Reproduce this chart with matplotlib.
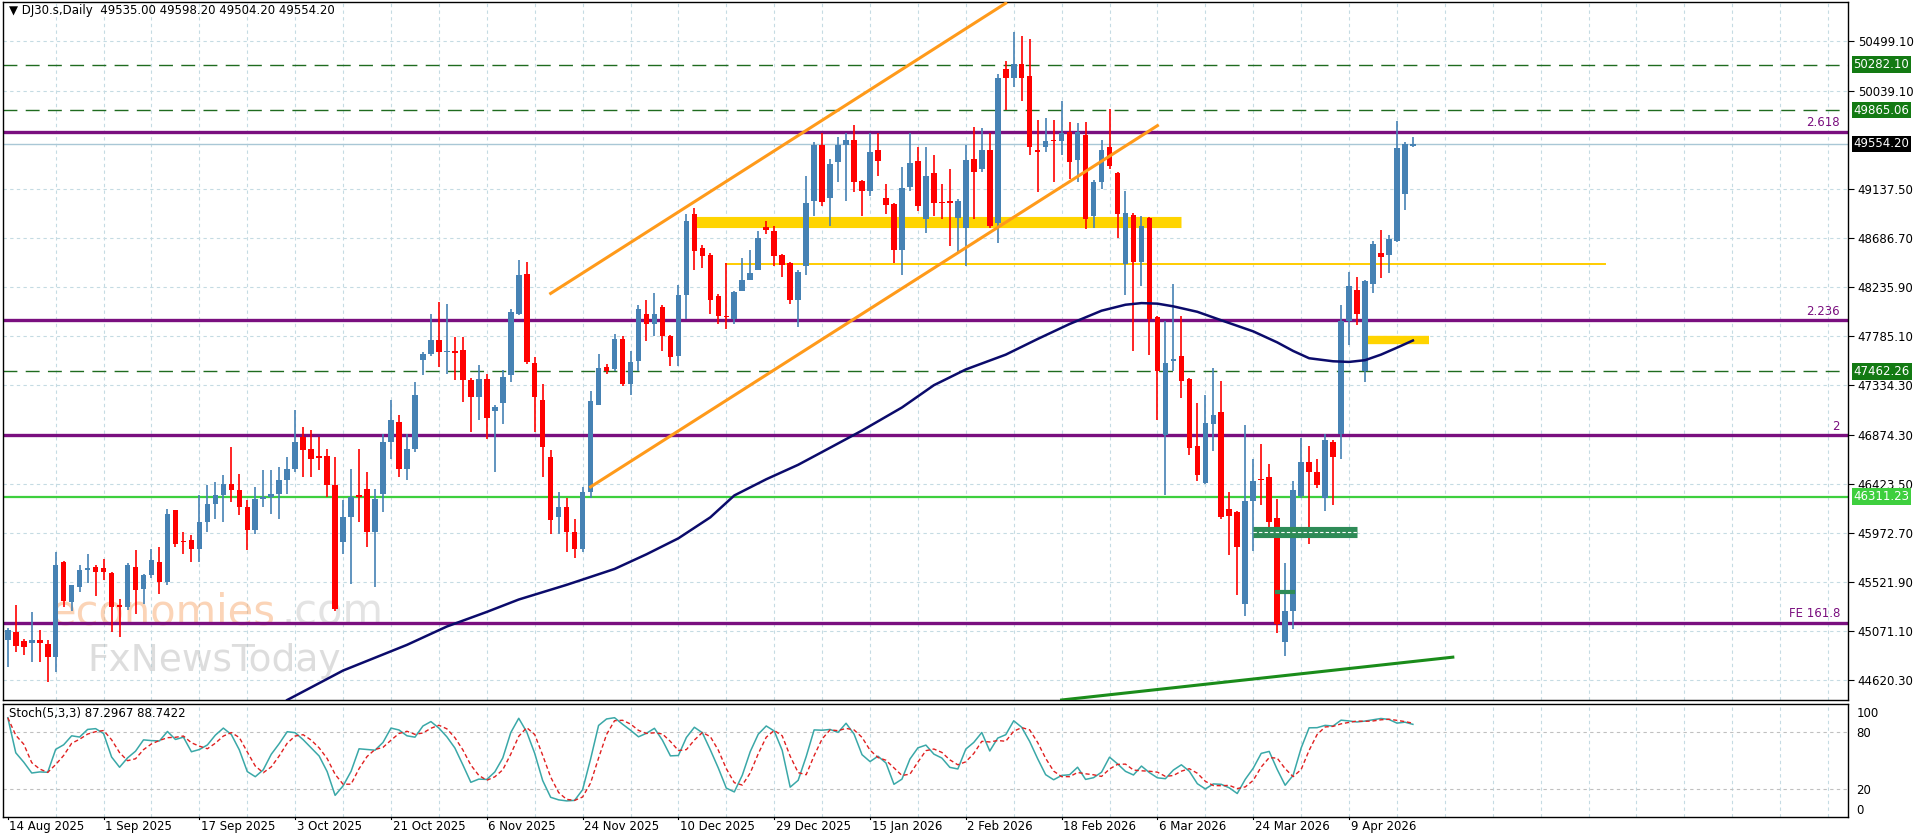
import matplotlib.pyplot as plt
import matplotlib.transforms as mtransforms
import numpy as np
import pandas as pd

# daily OHLC, bar 0 = 14 Aug 2025
opens = [44990, 45064, 44987, 44960, 44990, 44957, 44834, 45708, 45340, 45478,
         45640, 45660, 45650, 45607, 45318, 45294, 45662, 45462, 45585, 45708,
         45524, 46183, 45900, 45907, 45830, 46076, 46245, 46321, 46429, 46367,
         46214, 46000, 46291, 46306, 46337, 46459, 46566, 46858, 46750, 46680,
         46680, 46413, 45892, 46122, 46321, 46383, 45984, 46337, 46812, 46996,
         46567, 46751, 47563, 47625, 47753, 47640, 47650, 47655, 47379, 47226,
         47395, 47100, 47170, 47425, 47992, 48354, 47542, 47195, 46674, 46122,
         46214, 45984, 45830, 46350, 47157, 47500, 47482, 47760, 47342, 47559,
         47992, 47900, 48055, 47792, 47605, 48163, 48907, 48600, 48535, 48154,
         47970, 47946, 48200, 48302, 48390, 48790, 48752, 48535, 48458, 48117,
         48427, 49030, 49548, 49054, 49387, 49542, 49588, 49210, 49124, 49495,
         49054, 49000, 48582, 49160, 49393, 48861, 49288, 49020, 49030, 48877,
         48783, 49418, 49325, 49496, 48823, 50245, 50162, 50292, 50177, 49500,
         49527, 49590, 49580, 49666, 49403, 49635, 48891, 49207, 49529, 49290,
         48453, 48904, 48470, 48873, 47958, 46877, 47560, 47600, 47388, 46780,
         46438, 46975, 47087, 46199, 46165, 45321, 46267, 46475, 46489, 46113,
         44969, 45259, 46318, 46626, 46540, 46301, 46814, 46882, 47924, 48214,
         47463, 48265, 48552, 48532, 48658, 49092, 49535]
closes = [45080, 44941, 44926, 44990, 44960, 44834, 45677, 45355, 45493, 45631,
          45655, 45620, 45620, 45294, 45294, 45677, 45447, 45585, 45723, 45524,
          46152, 45877, 45892, 45830, 46076, 46245, 46321, 46429, 46367, 46214,
          46000, 46291, 46306, 46337, 46459, 46566, 46812, 46735, 46658, 46665,
          46413, 45278, 46122, 46306, 46306, 45984, 46291, 46812, 47011, 46567,
          46751, 47241, 47625, 47753, 47640, 47640, 47635, 47379, 47226, 47395,
          47036, 47130, 47410, 48008, 48345, 47548, 47226, 46766, 46091, 46214,
          45984, 45830, 46350, 47190, 47497, 47470, 47760, 47342, 47544, 48039,
          47900, 47992, 47792, 47590, 48163, 48845, 48566, 48520, 48117, 47968,
          47960, 48194, 48302, 48364, 48690, 48760, 48520, 48442, 48117, 48380,
          49015, 49542, 49022, 49372, 49542, 49588, 49201, 49124, 49480, 49393,
          48991, 48582, 49146, 49381, 48984, 49257, 49015, 49010, 49015, 49030,
          49403, 49294, 49496, 48799, 50162, 50162, 50292, 50162, 49527, 49475,
          49580, 49585, 49650, 49388, 49666, 48861, 49207, 49502, 49348, 48908,
          48921, 48470, 48802, 47941, 47469, 47536, 47575, 47377, 46762, 46506,
          46984, 47063, 46120, 46130, 45847, 46267, 46455, 46465, 46079, 45140,
          45259, 46369, 46626, 46540, 46421, 46831, 46677, 47924, 48248, 47992,
          48289, 48631, 48518, 48675, 49512, 49557, 49554]
highs = [45100, 45310, 45000, 45250, 45080, 44990, 45800, 45720, 45500, 45678,
         45785, 45680, 45740, 45620, 45370, 45700, 45816, 45600, 45830, 45846,
         46199, 46190, 45985, 45954, 46321, 46413, 46444, 46505, 46766, 46521,
         46275, 46398, 46551, 46551, 46582, 46674, 47103, 46950, 46920, 46858,
         46750, 46674, 46275, 46567, 46750, 46536, 46383, 46889, 47195, 47057,
         46889, 47364, 47640, 47992, 48100, 48084, 47778, 47778, 47400, 47517,
         47440, 47150, 47471, 48038, 48483, 48468, 47594, 47348, 46735, 46352,
         46300, 46100, 46400, 47280, 47621, 47528, 47807, 47792, 47652, 48070,
         48117, 48179, 48070, 47800, 48256, 48907, 48969, 48620, 48550, 48170,
         48457, 48200, 48504, 48582, 48752, 48845, 48798, 48540, 48470, 48390,
         49263, 49573, 49650, 49418, 49620, 49650, 49728, 49220, 49650, 49650,
         49186, 49010, 49341, 49650, 49527, 49527, 49449, 49186, 49325, 49050,
         49542, 49712, 49697, 49650, 50193, 50317, 50580, 50549, 50518, 49775,
         49790, 49775, 49945, 49759, 49743, 49759, 49220, 49589, 49878, 49300,
         49119, 48921, 48887, 48880, 47970, 47924, 48265, 47975, 47400, 47172,
         47241, 47497, 47370, 46352, 46180, 46967, 46660, 46797, 46609, 46284,
         45703, 46455, 46848, 46780, 46660, 46882, 46830, 48077, 48375, 48334,
         48300, 48658, 48761, 48716, 49768, 49570, 49615]
lows = [44742, 44880, 44850, 44790, 44790, 44604, 44696, 45294, 45260, 45430,
        45520, 45400, 45540, 45064, 45018, 45270, 45233, 45325, 45560, 45417,
        45500, 45846, 45785, 45708, 45708, 45984, 46107, 46076, 46260, 46137,
        45815, 45969, 46214, 46153, 46107, 46337, 46536, 46490, 46490, 46551,
        46306, 45263, 45785, 45509, 46076, 45846, 45478, 46168, 46659, 46490,
        46459, 46720, 47425, 47600, 47502, 47440, 47379, 47180, 46904, 47011,
        46843, 46536, 46980, 47364, 47977, 47530, 46904, 46490, 45969, 45969,
        45800, 45750, 45800, 46300, 47150, 47435, 47466, 47327, 47249, 47466,
        47745, 47792, 47652, 47513, 47513, 47946, 48396, 48410, 47993, 47900,
        47854, 47900, 48256, 48318, 48430, 48730, 48430, 48334, 48086, 47869,
        48349, 48891, 48984, 48798, 49201, 49031, 49108, 48891, 49077, 49263,
        48907, 48458, 48349, 49124, 48938, 48737, 48891, 48861, 48612, 48550,
        48427, 48861, 49300, 48783, 48644, 49867, 50075, 49945, 49449, 49108,
        49480, 49201, 49449, 49232, 49201, 48768, 48783, 49139, 49325, 48692,
        48163, 47650, 48248, 47616, 47019, 46325, 47463, 47213, 46694, 46455,
        46430, 46728, 46100, 45772, 45403, 45208, 45806, 46233, 46028, 45054,
        44849, 45089, 46300, 45875, 46387, 46182, 46233, 46660, 47702, 47890,
        47360, 48180, 48317, 48368, 48650, 48949, 49529]

# moving average (bar index, value)
ma_idx = [35, 42, 50, 55, 60, 64, 70, 76, 80, 84, 88, 91, 95, 99, 103, 107, 112,
          116, 120, 125, 129, 133, 137, 140, 142, 144, 146, 149, 152, 156, 159,
          161, 163, 166, 168, 170, 172, 174, 176]
ma_val = [44440, 44711, 44947, 45116, 45250, 45364, 45499, 45645, 45780, 45927,
          46120, 46321, 46470, 46603, 46760, 46918, 47130, 47335, 47480, 47616,
          47760, 47898, 48020, 48075, 48090, 48085, 48060, 48010, 47932, 47830,
          47729, 47650, 47583, 47555, 47549, 47565, 47616, 47680, 47746]

date_labels = ["14 Aug 2025", "1 Sep 2025", "17 Sep 2025", "3 Oct 2025", "21 Oct 2025",
               "6 Nov 2025", "24 Nov 2025", "10 Dec 2025", "29 Dec 2025", "15 Jan 2026",
               "2 Feb 2026", "18 Feb 2026", "6 Mar 2026", "24 Mar 2026", "9 Apr 2026"]
price_ticks = [44620.30, 45071.10, 45521.90, 45972.70, 46423.50, 46874.30, 47334.30,
               47785.10, 48235.90, 48686.70, 49137.50, 50039.10, 50499.10]
fib_levels = [49666, 47931, 46873, 45150]
fib_names = ["2.618", "2.236", "2", "FE 161.8"]
dashed_levels = [50282.10, 49865.06, 47462.26]
green_level = 46311.23
last_price = 49554.20

# drawn objects (bar index / price pairs)
chan_upper = ([68, 125], [48179, 50848])
chan_lower = ([73, 144], [46400, 49722])
trend_green = ([132, 181], [44440, 44834])

fig = plt.figure(figsize=(19.16, 8.4), dpi=100)
W, H = 1916, 840
ax = fig.add_axes([3 / W, 1 - 700 / H, 1845 / W, 698 / H])
ax2 = fig.add_axes([3 / W, 1 - 817 / H, 1845 / W, 113 / H])

n = len(closes)
x = np.arange(n)
grid_c = "#c5dbe3"
for a in (ax, ax2):
    a.set_xlim(-0.6, 230.5)
    for gx in range(6, 231, 6):
        a.axvline(gx, color=grid_c, lw=0.8, ls=(0, (3, 3)), zorder=0)
    a.set_xticks([])
    for s in a.spines.values():
        s.set_color("black")
        s.set_linewidth(1)

ax.set_ylim(44440, 50859)
for p in price_ticks:
    ax.axhline(p, color=grid_c, lw=0.8, ls=(0, (3, 3)), zorder=0)
ax.yaxis.tick_right()
ax.set_yticks(price_ticks)
ax.set_yticklabels(["%.2f" % p for p in price_ticks], fontsize=8.5)
ax.tick_params(axis="y", length=4, pad=3)

# watermark
ax.text(0.026, 0.095, "economies", transform=ax.transAxes, fontsize=30, color="#f7a060",
        alpha=0.45, ha="left", va="bottom", zorder=1)
ax.text(0.151, 0.095, ".com", transform=ax.transAxes, fontsize=30, color="#c8c8c8",
        alpha=0.5, ha="left", va="bottom", zorder=1)
ax.text(0.046, 0.03, "FxNewsToday", transform=ax.transAxes, fontsize=27, color="#bdbdbd",
        alpha=0.5, ha="left", va="bottom", zorder=1)

# candles
for i in range(n):
    o, c = opens[i], closes[i]
    col = "#4682B4" if c >= o else "#FF0000"
    ax.vlines(i, lows[i], highs[i], color=col, lw=1.2, zorder=3)
    ax.bar(i, max(abs(c - o), 8), bottom=min(o, c), width=0.7, color=col, zorder=4)

ax.plot(ma_idx, ma_val, color="#0b0b6b", lw=1.8, zorder=5)

# levels
for lv, nm in zip(fib_levels, fib_names):
    ax.axhline(lv, color="#7a0f7f", lw=2.4, zorder=2)
    ax.text(229.5, lv + 25, nm, color="#7a0f7f", fontsize=8.5, ha="right", va="bottom")
for lv in dashed_levels:
    ax.axhline(lv, color="#1f6b1f", lw=1, ls=(0, (10, 6)), zorder=2)
ax.axhline(green_level, color="#3ecf3e", lw=1.6, zorder=2)
ax.axhline(last_price, color="#a9c7d6", lw=1, zorder=2)

ax.plot(*chan_upper, color="#ff9a1a", lw=2.2, zorder=6)
ax.plot(*chan_lower, color="#ff9a1a", lw=2.2, zorder=6)
ax.plot(*trend_green, color="#1a8c1a", lw=2.2, zorder=6)
ax.plot([86, 147], [48833, 48833], color="#ffd400", lw=8, solid_capstyle="butt", zorder=2)
ax.plot([90, 200], [48450, 48450], color="#ffcc00", lw=1.4, zorder=2)
ax.plot([170, 178], [47751, 47751], color="#ffd400", lw=6, solid_capstyle="butt", zorder=2)
ax.plot([156, 169], [45984, 45984], color="#2e8b57", lw=8, solid_capstyle="butt", zorder=5)
ax.plot([156, 169], [45984, 45984], color="white", lw=0.8, ls=(0, (3, 2)), zorder=5)
ax.plot([159, 161], [45430, 45430], color="#2e8b57", lw=3, zorder=5)

# right-side price boxes
tr = mtransforms.blended_transform_factory(ax.transAxes, ax.transData)
for lv in dashed_levels:
    ax.text(1.003, lv, "%.2f" % lv, transform=tr, fontsize=8.5, color="white", va="center",
            bbox=dict(boxstyle="square,pad=0.15", fc="#137a13", ec="none"))
ax.text(1.003, green_level, "%.2f" % green_level, transform=tr, fontsize=8.5, color="white",
        va="center", bbox=dict(boxstyle="square,pad=0.15", fc="#3ecf3e", ec="none"))
ax.text(1.003, last_price, "%.2f" % last_price, transform=tr, fontsize=8.5, color="white",
        va="center", bbox=dict(boxstyle="square,pad=0.15", fc="black", ec="none"))

ax.text(0.003, 0.997, "\u25bc DJ30.s,Daily  49535.00 49598.20 49504.20 49554.20",
        transform=ax.transAxes, fontsize=8.5, va="top", ha="left")

# stochastic (5,3,3) computed from the candles
df = pd.DataFrame({"h": highs, "l": lows, "c": closes})
ll = df["l"].rolling(5, min_periods=1).min()
hh = df["h"].rolling(5, min_periods=1).max()
k = ((df["c"] - ll).rolling(3, min_periods=1).sum()
     / (hh - ll).rolling(3, min_periods=1).sum() * 100)
d = k.rolling(3, min_periods=1).mean()
ax2.set_ylim(-8.6, 108.6)
for p in (20, 80):
    ax2.axhline(p, color="#c0c0c0", lw=0.8, ls=(0, (3, 3)), zorder=0)
ax2.plot(x, k, color="#3aa8a8", lw=1.1)
ax2.plot(x, d, color="#e02020", lw=1, ls=(0, (3, 2)))
ax2.yaxis.tick_right()
ax2.set_yticks([0, 20, 80, 100])
ax2.set_yticklabels(["0", "20", "80", "100"], fontsize=8.5)
ax2.tick_params(axis="y", length=0, pad=6)
ax2.text(0.003, 0.97, "Stoch(5,3,3) 87.2967 88.7422", transform=ax2.transAxes,
         fontsize=8.5, va="top", ha="left")

for j, lab in enumerate(date_labels):
    ax2.text(j * 12 + 0.2, -12, lab, fontsize=8.5, ha="left", va="top")
    ax2.plot([j * 12, j * 12], [-8.6, -11], color="black", lw=0.8, clip_on=False)

fig.savefig("out.png", dpi=100, facecolor="white")
